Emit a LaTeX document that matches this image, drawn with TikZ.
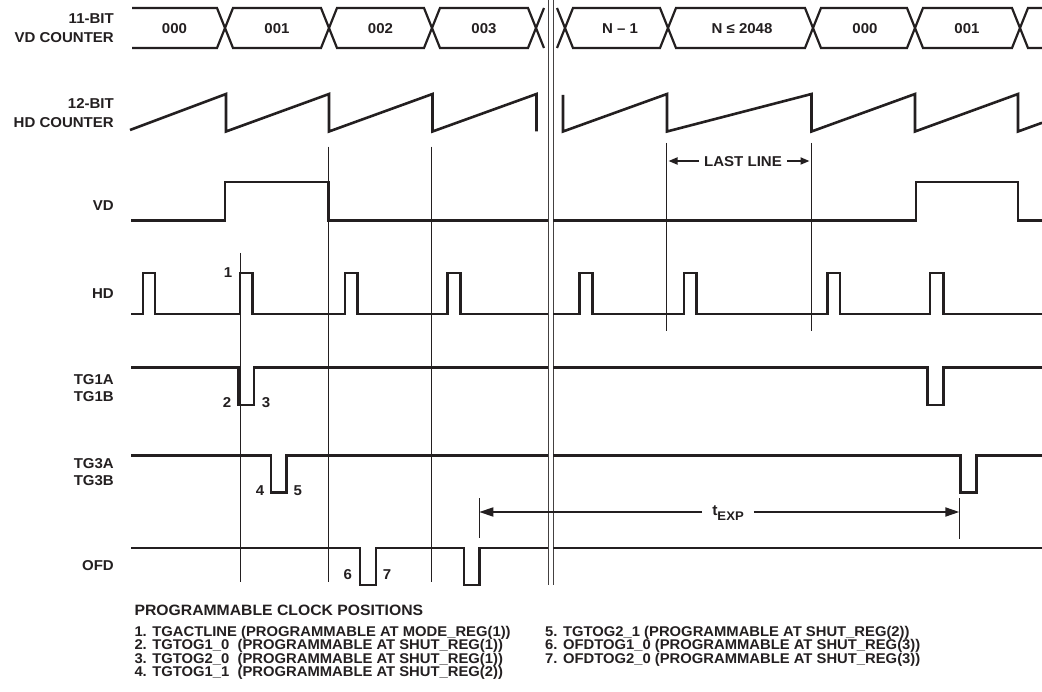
\documentclass[tikz,border=0pt]{standalone}
\usepackage{fontspec}
\setmainfont{Liberation Sans}[FakeStretch=1.05]
\usetikzlibrary{arrows.meta}
\definecolor{ink}{RGB}{35,31,32}
\begin{document}
\begin{tikzpicture}[x=1pt,y=-1pt,
  sig/.style={draw=ink,line width=2.6pt,line join=miter},
  busl/.style={draw=ink,line width=2.2pt},
  guide/.style={draw=ink,line width=0.9pt},
  brk/.style={draw=ink!85,line width=1pt},
  dimarr/.style={draw=ink,line width=1.8pt},
  txt/.style={inner sep=0pt,text height=10.2pt,text depth=0pt,text=ink,font=\fontsize{14.3}{14.3}\selectfont\bfseries},
  lbl/.style={txt,anchor=east},
  val/.style={txt},
  num/.style={txt},
  legT/.style={txt,anchor=west,text height=10.7pt,font=\fontsize{15}{15}\selectfont\bfseries},
  leg/.style={txt,anchor=west,text height=10pt,font=\fontsize{14.1}{14.1}\selectfont\bfseries},
]
\fill[white] (0,0) rectangle (1042,692);
\useasboundingbox (0,0) rectangle (1042,692);

% row labels
\node[lbl] (l11bit) at (114,18.7) {11-BIT};
\node[lbl] (lvdc) at (114,37.3) {VD COUNTER};
\node[lbl] (l12bit) at (114,103.3) {12-BIT};
\node[lbl] (lhdc) at (114,122) {HD COUNTER};
\node[lbl] (lvd) at (114,205) {VD};
\node[lbl] (lhd) at (114,293) {HD};
\node[lbl] (ltg1a) at (114,379) {TG1A};
\node[lbl] (ltg1b) at (114,396) {TG1B};
\node[lbl] (ltg3a) at (114,463) {TG3A};
\node[lbl] (ltg3b) at (114,480) {TG3B};
\node[lbl] (lofd) at (114,565) {OFD};

% break (double line)
\draw[brk] (548,0) -- (548,585);
\draw[brk] (553,0) -- (553,585);

% guide lines
\draw[guide] (240,253) -- (240,582);
\draw[guide] (328.5,146.7) -- (328.5,582);
\draw[guide] (431.5,146.7) -- (431.5,582);
\draw[guide] (666.5,143) -- (666.5,331.5);
\draw[guide] (811.5,143) -- (811.5,331.5);
\draw[guide] (479.3,498) -- (479.3,538);
\draw[guide] (959.3,498) -- (959.3,539);

% VD counter bus
\draw[busl] (132,8) -- (217,8) -- (233,48) -- (321,48) -- (337,8) -- (424,8) -- (440,48) -- (528,48) -- (544,8);
\draw[busl] (132,48) -- (217,48) -- (233,8) -- (321,8) -- (337,48) -- (424,48) -- (440,8) -- (528,8) -- (544,48);
\draw[busl] (557,8) -- (573,48) -- (660,48) -- (676,8) -- (805,8) -- (821,48) -- (907,48) -- (923,8) -- (1012,8) -- (1028,48) -- (1042,48);
\draw[busl] (557,48) -- (573,8) -- (660,8) -- (676,48) -- (805,48) -- (821,8) -- (907,8) -- (923,48) -- (1012,48) -- (1028,8) -- (1042,8);
\node[val] (b0) at (174.5,28) {000};
\node[val] (b1) at (277,28) {001};
\node[val] (b2) at (380.5,28) {002};
\node[val] (b3) at (484,28) {003};
\node[val] (bn1) at (620,28) {N – 1};
\node[val] (bn) at (742,28) {N ≤ 2048};
\node[val] (b0b) at (865,28) {000};
\node[val] (b1b) at (967,28) {001};

% HD counter sawtooth
\draw[sig] (130,130) -- (226,94) -- (226,131.5) -- (329,94) -- (329,131.5) -- (432.5,94) -- (432.5,131.5) -- (536.5,94) -- (536.5,131.5);
\draw[sig] (563,95) -- (563,131.5) -- (667,94) -- (667,131.5) -- (811.5,94) -- (811.5,131.5) -- (915,94) -- (915,131.5) -- (1018,94) -- (1018,131.5) -- (1042,122.8);

% LAST LINE
\coordinate (ll1) at (666.5,161);
\coordinate (ll2) at (811.5,161);
\node[val,inner xsep=5pt] (ll) at (743,161) {LAST LINE};
\draw[dimarr,-{Triangle[length=9pt,width=7pt]},shorten >=2pt] (ll.west) -- (ll1);
\draw[dimarr,-{Triangle[length=9pt,width=7pt]},shorten >=2pt] (ll.east) -- (ll2);

% VD
\draw[sig] (131,220.7) -- (225,220.7) -- (225,182) -- (328.5,182) -- (328.5,220.7) -- (548,220.7);
\draw[sig] (553,220.7) -- (916,220.7) -- (916,182) -- (1018,182) -- (1018,220.7) -- (1042,220.7);

% HD
\draw[sig] (131,314) -| (143,273) -| (155,314) -| (240,273) -| (252.3,314) -| (345,273) -| (357.7,314) -| (447.3,273) -| (460.3,314) -- (548,314);
\draw[sig] (553,314) -| (579.3,273) -| (592.3,314) -| (684,273) -| (696.7,314) -| (827.3,273) -| (840,314) -| (930,273) -| (943.3,314) -- (1042,314);

% TG1
\draw[sig] (131,367.5) -| (238.5,405) -| (254,367.5) -- (548,367.5);
\draw[sig] (553,367.5) -| (927.7,405) -| (943.3,367.5) -- (1042,367.5);

% TG3
\draw[sig] (131,455.7) -| (271,492.3) -| (286.7,455.7) -- (548,455.7);
\draw[sig] (553,455.7) -| (960.7,492.3) -| (976.7,455.7) -- (1042,455.7);

% OFD
\draw[sig] (131,548) -| (360,585) -| (376,548) -| (464,585) -| (479.3,548) -- (548,548);
\draw[sig] (553,548) -- (1042,548);

% t_EXP
\coordinate (te1) at (479.3,512);
\coordinate (te2) at (959.3,512);
\node[inner xsep=10pt,inner ysep=0pt,anchor=base,text=ink,font=\fontsize{15}{15}\selectfont\bfseries] (tex) at (728,515) {t\raisebox{-5pt}{\fontsize{12.5}{12.5}\selectfont EXP}};
\draw[dimarr,-{Triangle[length=14pt,width=9pt]}] (tex.west |- te1) -- (te1);
\draw[dimarr,-{Triangle[length=14pt,width=9pt]}] (tex.east |- te2) -- (te2);

% clock position numbers
\node[num] (n1) at (228,272) {1};
\node[num] (n2) at (227,402) {2};
\node[num] (n3) at (266,402) {3};
\node[num] (n4) at (260,490) {4};
\node[num] (n5) at (297.7,490) {5};
\node[num] (n6) at (347.7,574) {6};
\node[num] (n7) at (387,574) {7};

% legend
\node[legT] (legt) at (134.3,610) {PROGRAMMABLE CLOCK POSITIONS};
\node[leg] (leg1) at (134.3,631) {1. TGACTLINE (PROGRAMMABLE AT MODE\_REG(1))};
\node[leg] (leg2) at (134.3,644.5) {2. TGTOG1\_0\ \ (PROGRAMMABLE AT SHUT\_REG(1))};
\node[leg] (leg3) at (134.3,658) {3. TGTOG2\_0\ \ (PROGRAMMABLE AT SHUT\_REG(1))};
\node[leg] (leg4) at (134.3,671.5) {4. TGTOG1\_1\ \ (PROGRAMMABLE AT SHUT\_REG(2))};
\node[leg] (leg5) at (545,631) {5. TGTOG2\_1 (PROGRAMMABLE AT SHUT\_REG(2))};
\node[leg] (leg6) at (545,644.5) {6. OFDTOG1\_0 (PROGRAMMABLE AT SHUT\_REG(3))};
\node[leg] (leg7) at (545,658) {7. OFDTOG2\_0 (PROGRAMMABLE AT SHUT\_REG(3))};
\end{tikzpicture}
\end{document}
